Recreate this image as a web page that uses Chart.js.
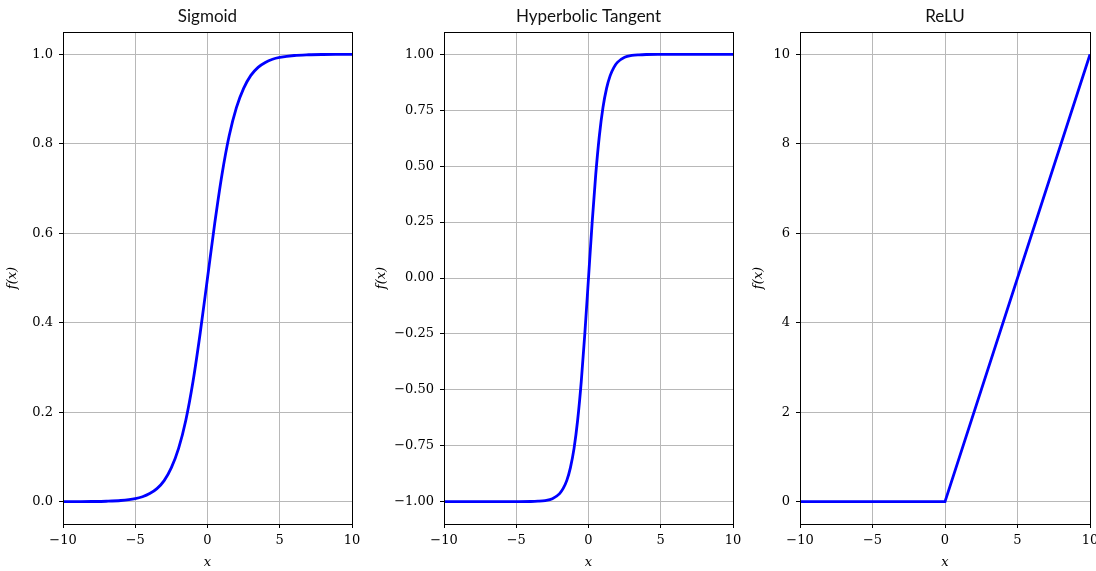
<!DOCTYPE html>
<html>
<head>
<meta charset="utf-8">
<script src="https://cdn.jsdelivr.net/npm/chart.js@4.4.0/dist/chart.umd.min.js"></script>
<style>
    html, body { margin: 0; padding: 0; background: #fff; overflow: hidden; width: 1096px; height: 571px; }
    .panel { position: absolute; top: 0; height: 571px; }
</style>
</head>
<body>
<div class="panel" style="left:0;width:368px"><canvas id="sigmoidChart"></canvas></div>
<div class="panel" style="left:370px;width:379px"><canvas id="tanhChart"></canvas></div>
<div class="panel" style="left:746px;width:360px"><canvas id="reluChart"></canvas></div>
<script>
// shared x axis
const xTicks = [-10, -5, 0, 5, 10];
const xTickLabels = ['\u221210', '\u22125', '0', '5', '10'];

// sigmoid
const sigmoidX = [-10, -9, -8, -7, -6, -5, -4.5, -4, -3.5, -3, -2.5, -2, -1.5, -1, -0.5, 0,
    0.5, 1, 1.5, 2, 2.5, 3, 3.5, 4, 4.5, 5, 6, 7, 8, 9, 10];
const sigmoidY = [0.0000, 0.0001, 0.0003, 0.0009, 0.0025, 0.0067, 0.011, 0.018, 0.029, 0.047, 0.076, 0.119, 0.182, 0.269, 0.378, 0.500,
    0.622, 0.731, 0.818, 0.881, 0.924, 0.953, 0.971, 0.982, 0.989, 0.993, 0.9975, 0.9991, 0.9997, 0.9999, 1.0000];
const sigmoidTicks = [0, 0.2, 0.4, 0.6, 0.8, 1.0];
const sigmoidTickLabels = ['0.0', '0.2', '0.4', '0.6', '0.8', '1.0'];

// hyperbolic tangent, middle panel
const tanhX = [-10, -8, -6, -5, -4, -3.5, -3, -2.5, -2, -1.75, -1.5, -1.25, -1, -0.75, -0.5, -0.25, 0,
    0.25, 0.5, 0.75, 1, 1.25, 1.5, 1.75, 2, 2.5, 3, 3.5, 4, 5, 6, 8, 10];
const tanhY = [-1, -1, -1, -0.9999, -0.9993, -0.998, -0.995, -0.987, -0.964, -0.941, -0.905, -0.848, -0.762, -0.635, -0.462, -0.245, 0,
    0.245, 0.462, 0.635, 0.762, 0.848, 0.905, 0.941, 0.964, 0.987, 0.995, 0.998, 0.9993, 0.9999, 1, 1, 1];
const tanhTicks = [-1, -0.75, -0.5, -0.25, 0, 0.25, 0.5, 0.75, 1];
const tanhTickLabels = ['\u22121.00', '\u22120.75', '\u22120.50', '\u22120.25', '0.00', '0.25', '0.50', '0.75', '1.00'];

// ReLU, right panel
const reluX = [-10, 0, 10];
const reluY = [0, 0, 10];
const reluTicks = [0, 2, 4, 6, 8, 10];
const reluTickLabels = ['0', '2', '4', '6', '8', '10'];

const TICK_FONT = { family: "'DejaVu Serif', serif", size: 13 };
const LABEL_FONT = { family: "'DejaVu Serif', serif", size: 13, style: 'italic' };

function align(px) { return Math.round(px - 0.5) + 0.5; }

// title above the plot area + the closed black frame (matplotlib spines)
const framePlugin = {
    id: 'frame',
    afterDraw(chart, args, opts) {
        const { ctx, chartArea: a } = chart;
        ctx.save();
        ctx.strokeStyle = '#000';
        ctx.lineWidth = 1;
        const l = align(a.left), r = align(a.right), t = align(a.top), b = align(a.bottom);
        ctx.strokeRect(l, t, r - l, b - t);
        ctx.fillStyle = '#111';
        ctx.font = "17px Lato, 'Open Sans', sans-serif";
        ctx.textAlign = 'center';
        ctx.textBaseline = 'alphabetic';
        ctx.fillText(opts.title, (a.left + a.right) / 2, 22);
        ctx.restore();
    }
};

function makePanel(id, title, xs, ys, yMin, yMax, ticks, tickLabels, yWidth, rightPad, yTitlePad, smooth) {
    const ctx = document.getElementById(id).getContext('2d');
    return new Chart(ctx, {
        type: 'line',
        data: {
            datasets: [{
                data: xs.map((x, i) => ({ x: x, y: ys[i] })),
                borderColor: '#0000ff',
                borderWidth: 2.8,
                pointRadius: 0,
                fill: false,
                cubicInterpolationMode: smooth ? 'monotone' : 'default',
                tension: 0
            }]
        },
        options: {
            responsive: true,
            maintainAspectRatio: false,
            animation: false,
            events: [],
            layout: { padding: { top: 32, right: rightPad, left: 0, bottom: 0 } },
            plugins: {
                legend: { display: false },
                tooltip: { enabled: false },
                frame: { title: title }
            },
            scales: {
                x: {
                    type: 'linear',
                    min: -10,
                    max: 10,
                    afterBuildTicks: s => { s.ticks = xTicks.map(v => ({ value: v })); },
                    afterFit: s => { s.height = 47; },
                    ticks: {
                        color: '#000',
                        font: TICK_FONT,
                        padding: 5,
                        maxRotation: 0,
                        autoSkip: false,
                        callback: v => xTickLabels[xTicks.indexOf(v)]
                    },
                    grid: { color: '#b8b8b8', lineWidth: 1, tickLength: 4, tickColor: '#000' },
                    border: { display: true, color: '#000', width: 1 },
                    title: { display: true, text: 'x', color: '#000', font: LABEL_FONT, padding: { top: 0, bottom: 1 } }
                },
                y: {
                    type: 'linear',
                    min: yMin,
                    max: yMax,
                    afterBuildTicks: s => { s.ticks = ticks.map(v => ({ value: v })); },
                    afterFit: s => { s.width = yWidth; },
                    ticks: {
                        color: '#000',
                        font: TICK_FONT,
                        padding: 6,
                        autoSkip: false,
                        callback: v => tickLabels[ticks.indexOf(v)]
                    },
                    grid: { color: '#b8b8b8', lineWidth: 1, tickLength: 4, tickColor: '#000' },
                    border: { display: true, color: '#000', width: 1 },
                    title: { display: true, text: 'f(x)', color: '#000', font: LABEL_FONT, padding: { top: yTitlePad, bottom: 0 } }
                }
            }
        },
        plugins: [framePlugin]
    });
}

window.sigmoidChart = makePanel('sigmoidChart', 'Sigmoid', sigmoidX, sigmoidY, -0.05, 1.05,
    sigmoidTicks, sigmoidTickLabels, 63, 16, 5, true);
window.tanhChart = makePanel('tanhChart', 'Hyperbolic Tangent', tanhX, tanhY, -1.1, 1.1,
    tanhTicks, tanhTickLabels, 74, 16, 4, true);
window.reluChart = makePanel('reluChart', 'ReLU', reluX, reluY, -0.5, 10.5,
    reluTicks, reluTickLabels, 54, 16, 5, false);
</script>
</body>
</html>
